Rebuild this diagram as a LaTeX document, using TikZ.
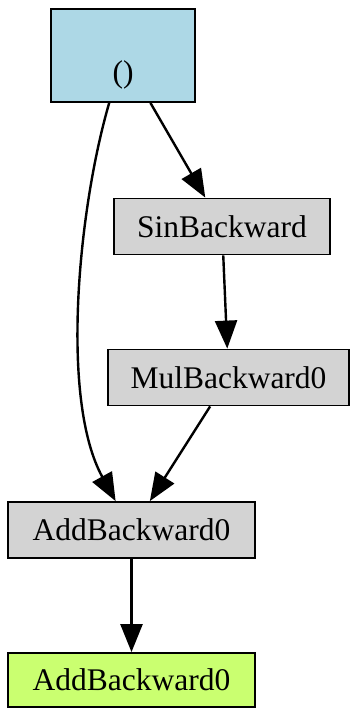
\documentclass[tikz,border=0pt]{standalone}
\usepackage{fontspec}
\setmainfont{Liberation Serif}
\usetikzlibrary{arrows.meta}

\definecolor{varblue}{RGB}{173,216,230}
\definecolor{opgray}{RGB}{211,211,211}
\definecolor{outgreen}{RGB}{202,255,112}

\begin{document}
\begin{tikzpicture}[x=1pt, y=-1pt,
    box/.style={draw, line width=1.8pt, inner sep=0pt, font=\fontsize{31.5}{38}\selectfont},
    op/.style={box, fill=opgray, minimum height=56pt},
    link/.style={->, line width=2.4pt},
    >={Triangle[length=28pt, width=22pt]}]
    \useasboundingbox (0, 0) rectangle (350, 708);

    \node[box, fill=varblue, minimum width=144pt, minimum height=93pt, text height=55pt, text depth=0pt] at (123, 55.5) (var) {()};
    \node[op, minimum width=216pt] at (222, 226.5) (sin) {SinBackward};
    \node[op, minimum width=241pt] at (228.5, 377.5) (mul) {MulBackward0};
    \node[op, minimum width=247pt] at (131.5, 530) (addA) {AddBackward0};
    \node[box, fill=outgreen, minimum width=247pt, minimum height=54pt] at (131.5, 680) (addB) {AddBackward0};

    \draw[link] (var) .. controls (78, 210) and (60, 400) .. (addA);
    \draw[link] (var) -- (sin);
    \draw[link] (sin) -- (mul);
    \draw[link] (mul) -- (addA);
    \draw[link] (addA) -- (addB);
\end{tikzpicture}
\end{document}
